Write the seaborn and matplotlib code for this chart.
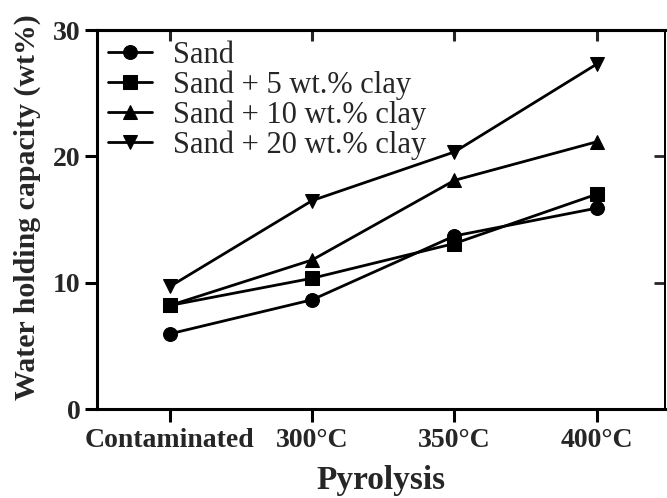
import matplotlib
matplotlib.use("Agg")
import matplotlib.pyplot as plt
import seaborn as sns
import pandas as pd

categories = ["Contaminated", "300\u00b0C", "350\u00b0C", "400\u00b0C"]
series_names = ["Sand", "Sand + 5 wt.% clay", "Sand + 10 wt.% clay", "Sand + 20 wt.% clay"]
sand = [5.95, 8.65, 13.7, 15.9]
sand_5 = [8.2, 10.35, 13.1, 17.0]
sand_10 = [8.2, 11.8, 18.1, 21.15]
sand_20 = [9.7, 16.5, 20.35, 27.3]
y_ticks = [0, 10, 20, 30]

values = [sand, sand_5, sand_10, sand_20]
rows = []
for name, vals in zip(series_names, values):
    for i, v in enumerate(vals):
        rows.append({"pos": i, "value": v, "series": name})
df = pd.DataFrame(rows)

sns.set_style("ticks")
plt.rcParams["font.family"] = ["Liberation Serif", "DejaVu Serif"]

fig = plt.figure(figsize=(6.67, 4.98), dpi=100)
ax = fig.add_axes([97/667, 89/498, 568/667, 379/498])

sns.lineplot(data=df, x="pos", y="value", hue="series", style="series",
             hue_order=series_names, style_order=series_names,
             palette=["black"] * 4, markers=["o", "s", "^", "v"], dashes=False,
             markersize=10, linewidth=2.0, markeredgecolor="black",
             ax=ax, legend=True)

ax.set_xlim(-0.513, 3.48)
ax.set_ylim(0, 30)
ax.set_xticks(range(len(categories)))
ax.set_xticklabels(categories, fontsize=20, fontweight="bold")
ax.set_yticks(y_ticks)
ax.set_yticklabels([str(t) for t in y_ticks], fontsize=20, fontweight="bold")
ax.set_xlabel("Pyrolysis", fontsize=24, fontweight="bold", labelpad=8)
ax.set_ylabel("Water holding capacity (wt%)", fontsize=21.5, fontweight="bold")
ax.yaxis.set_label_coords(-0.098, 0.533)

for s in ["left", "bottom", "top"]:
    ax.spines[s].set_visible(True)
    ax.spines[s].set_linewidth(2.2)
    ax.spines[s].set_color("black")
ax.spines["right"].set_visible(True)
ax.spines["right"].set_linewidth(1.4)
ax.spines["right"].set_color("black")

ax.tick_params(axis="both", direction="out", length=9, width=2.2, color="black", pad=3)
ax.tick_params(axis="x", pad=5)

top = ax.secondary_xaxis("top")
top.set_xticks(range(len(categories)))
top.tick_params(direction="in", length=8, width=2.2, labeltop=False)
top.spines["top"].set_linewidth(2.2)
right = ax.secondary_yaxis("right")
right.set_yticks(y_ticks)
right.tick_params(direction="in", length=8, width=2.0, labelright=False)
right.spines["right"].set_linewidth(1.4)

handles, labels = ax.get_legend_handles_labels()
ax.legend(handles, labels, loc="upper left", bbox_to_anchor=(0.0, 1.0),
          frameon=False, fontsize=22, labelspacing=0.02, handlelength=1.45,
          handletextpad=0.7, borderaxespad=0.2, borderpad=0.15)

fig.savefig("out.png", dpi=100)
